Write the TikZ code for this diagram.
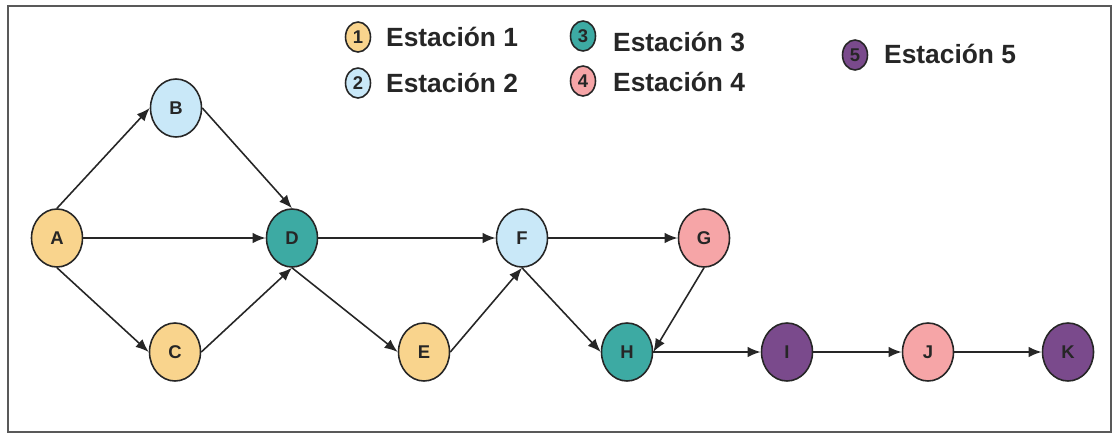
\documentclass[tikz,border=0pt]{standalone}
\usepackage{fontspec}
\setmainfont{Liberation Sans}
\usepackage{tikz}
\usetikzlibrary{arrows.meta,shapes.geometric}

% station colours
\definecolor{estA}{HTML}{F9D48D}
\definecolor{estB}{HTML}{C9E8F8}
\definecolor{estC}{HTML}{3DAAA3}
\definecolor{estD}{HTML}{F6A5A7}
\definecolor{estE}{HTML}{7A4A8C}
\definecolor{ink}{HTML}{262626}

\begin{document}
\begin{tikzpicture}[x=0.02cm,y=0.02cm,
    station/.style={ellipse, draw=ink, line width=0.9pt, minimum width=1.02cm,
      minimum height=1.16cm, inner sep=0pt, text=ink,
      font=\bfseries\fontsize{10.5}{12}\selectfont},
    key/.style={ellipse, draw=ink, line width=0.9pt, minimum width=0.5cm,
      minimum height=0.6cm, inner sep=0pt, text=ink,
      font=\bfseries\fontsize{10.5}{12}\selectfont},
    keytext/.style={anchor=west, text=ink, font=\bfseries\fontsize{15}{18}\selectfont},
    flow/.style={-{Latex[length=7.5pt,width=6pt]}, line width=0.9pt, draw=ink}]

    \useasboundingbox (0,0) rectangle (1114,434);

    % Frame
    \draw[black!65, line width=0.9pt] (8,2) rectangle (1111,428);

    % Legend
    \node[key, fill=estA] (k1) at (358,397) {1};
    \node[keytext] (t1) at (380,397) {Estación 1};
    \node[key, fill=estB] (k2) at (358,351) {2};
    \node[keytext] (t2) at (380,351) {Estación 2};
    \node[key, fill=estC] (k3) at (583,398) {3};
    \node[keytext] (t3) at (607,392) {Estación 3};
    \node[key, fill=estD] (k4) at (583,353) {4};
    \node[keytext] (t4) at (607,352) {Estación 4};
    \node[key, fill=estE] (k5) at (855,379) {5};
    \node[keytext] (t5) at (878,380) {Estación 5};

    % Tasks
    \node[station, fill=estA] (A) at (57,196) {A};
    \node[station, fill=estB] (B) at (176,326) {B};
    \node[station, fill=estA] (C) at (175,82) {C};
    \node[station, fill=estC] (D) at (292,196) {D};
    \node[station, fill=estA] (E) at (424,82) {E};
    \node[station, fill=estB] (F) at (522,196) {F};
    \node[station, fill=estD] (G) at (704,196) {G};
    \node[station, fill=estC] (H) at (627,82) {H};
    \node[station, fill=estE] (I) at (787,82) {I};
    \node[station, fill=estD] (J) at (928,82) {J};
    \node[station, fill=estE] (K) at (1068,82) {K};

    % Precedences
    \draw[flow] (A.north) -- (B.west);
    \draw[flow] (A.east) -- (D.west);
    \draw[flow] (A.south) -- (C.west);
    \draw[flow] (B.east) -- (D.north);
    \draw[flow] (C.east) -- (D.south);
    \draw[flow] (D.east) -- (F.west);
    \draw[flow] (D.south) -- (E.west);
    \draw[flow] (E.east) -- (F.south);
    \draw[flow] (F.east) -- (G.west);
    \draw[flow] (F.south) -- (H.west);
    \draw[flow] (G.south) -- (H.east);
    \draw[flow] (H.east) -- (I.west);
    \draw[flow] (I.east) -- (J.west);
    \draw[flow] (J.east) -- (K.west);
\end{tikzpicture}
\end{document}
